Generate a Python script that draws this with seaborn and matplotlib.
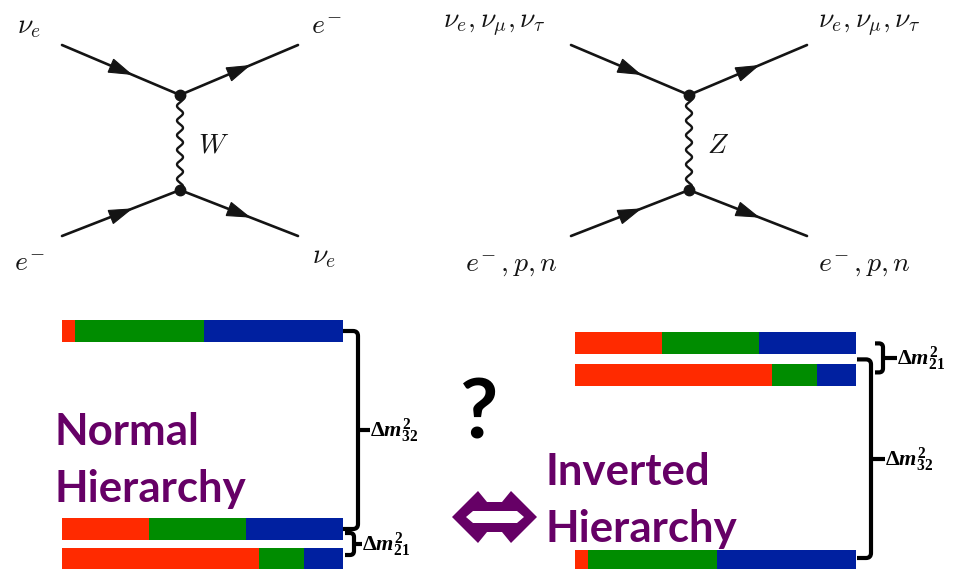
import numpy as np
import pandas as pd
import matplotlib
matplotlib.use("Agg")
import matplotlib.pyplot as plt
from matplotlib.path import Path
from matplotlib.patches import PathPatch, Polygon
import seaborn as sns

# Flavour content (nu_e, nu_mu, nu_tau fractions) of the mass states m1, m2, m3
states = ["m1", "m2", "m3"]
frac_e = [0.70, 0.31, 0.045]
frac_mu = [0.16, 0.345, 0.46]
frac_tau = [0.14, 0.345, 0.495]
flavours = ["e", "mu", "tau"]

# Relative squared-mass level of m1, m2, m3 in each ordering
normal_levels = [0.0, 1.0, 7.6]
inverted_levels = [5.8, 6.8, 0.0]

# Vertices of the two exchange diagrams (W: charged current, Z: neutral current)
diagram_x = [180, 689]
vertex_y = [95, 190]
leg_dx = 118
leg_dy_top = 50
leg_dy_bottom = 46

FLAVOUR_COLORS = {"e": "#FF2A00", "mu": "#008C00", "tau": "#0020A0"}
PURPLE = "#660066"
INK = "#141414"

sns.set_style("white")
plt.rcParams["font.family"] = ["Lato", "DejaVu Sans"]
plt.rcParams["mathtext.fontset"] = "custom"
plt.rcParams["mathtext.rm"] = "Liberation Serif:bold"
plt.rcParams["mathtext.it"] = "Liberation Serif:italic:bold"
plt.rcParams["mathtext.bf"] = "Liberation Serif:bold"

W, H = 956, 569
fig = plt.figure(figsize=(W / 100, H / 100), dpi=100)
fig.patch.set_facecolor("white")


def px_axes(left, right, top, bottom):
    return fig.add_axes([left / W, 1 - bottom / H, (right - left) / W, (bottom - top) / H])


# ---- stacked flavour bars for both orderings ----
BAR_PX = 22
panels = {
    "normal": dict(levels=normal_levels, x0=62, x1=343, y0=559, unit=30.0),
    "inverted": dict(levels=inverted_levels, x0=575, x1=856, y0=561, unit=32.0),
}
for name, p in panels.items():
    ax = px_axes(p["x0"], p["x1"], 290, H)
    df = pd.DataFrame({"state": states, "level": p["levels"],
                       "e": frac_e, "mu": frac_mu, "tau": frac_tau})
    df["cum_e"] = df["e"]
    df["cum_mu"] = df["e"] + df["mu"]
    df["cum_tau"] = df["e"] + df["mu"] + df["tau"]
    for fl in reversed(flavours):
        sns.barplot(data=df, x=f"cum_{fl}", y="level", orient="y", native_scale=True,
                    color=FLAVOUR_COLORS[fl], saturation=1, width=BAR_PX / p["unit"],
                    linewidth=0, errorbar=None, ax=ax)
    ax.set_xlim(0, 1)
    ax.set_ylim((p["y0"] - H) / p["unit"], (p["y0"] - 290) / p["unit"])
    ax.axis("off")

# ---- overlay canvas in pixel units for diagrams and annotations ----
cv = fig.add_axes([0, 0, 1, 1])
cv.set_xlim(0, W)
cv.set_ylim(H, 0)
cv.axis("off")
cv.patch.set_visible(False)


def level_px(panel, state):
    p = panels[panel]
    return p["y0"] - p["levels"][states.index(state)] * p["unit"]


def brace(x_start, x_vert, y_top, y_bot, x_tip, label, r=5, lw=3.0):
    y_mid = 0.5 * (y_top + y_bot)
    verts = [(x_start, y_top), (x_vert - r, y_top), (x_vert, y_top), (x_vert, y_top + r),
             (x_vert, y_bot - r), (x_vert, y_bot), (x_vert - r, y_bot), (x_start, y_bot)]
    codes = [Path.MOVETO, Path.LINETO, Path.CURVE3, Path.CURVE3,
             Path.LINETO, Path.CURVE3, Path.CURVE3, Path.LINETO]
    cv.add_patch(PathPatch(Path(verts, codes), fill=False, lw=lw, color="black",
                           capstyle="butt", joinstyle="round"))
    cv.plot([x_vert, x_tip], [y_mid, y_mid], color="black", lw=lw, solid_capstyle="butt")
    cv.text(x_tip, y_mid + 1, label, fontsize=16, color="black", ha="left", va="center")


n1 = panels["normal"]["x1"]
brace(n1, n1 + 15, level_px("normal", "m3"), level_px("normal", "m2"), n1 + 27,
      r"$\Delta m^2_{32}$")
brace(n1 + 2, n1 + 11, level_px("normal", "m2") + 4, level_px("normal", "m1") - 4, n1 + 19,
      r"$\Delta m^2_{21}$", r=4)
i1 = panels["inverted"]["x1"]
brace(i1 + 19, i1 + 27, level_px("inverted", "m2"), level_px("inverted", "m1") - 3, i1 + 41,
      r"$\Delta m^2_{21}$", r=4)
brace(i1 + 1, i1 + 15, 0.5 * (level_px("inverted", "m2") + level_px("inverted", "m1")),
      level_px("inverted", "m3") - 3, i1 + 29, r"$\Delta m^2_{32}$")

# ---- titles ----
title_kw = dict(color=PURPLE, fontsize=31.5, fontweight="bold", ha="left", va="baseline")
cv.text(55, 445, "Normal", **title_kw)
cv.text(55, 502, "Hierarchy", **title_kw)
cv.text(546, 485, "Inverted", **title_kw)
cv.text(546, 542, "Hierarchy", **title_kw)
cv.text(460, 438, "?", color="black", fontsize=60, fontweight="bold", ha="left", va="baseline")

# double-headed arrow between the two orderings
ax_c, ay_c = 494.5, 517
outer = [(-42.5, 0), (-16.5, -26), (-7.5, -15), (7.5, -15), (16.5, -26),
         (42.5, 0), (16.5, 26), (7.5, 15), (-7.5, 15), (-16.5, 26)]
inner = [(-28.5, 0), (-21.5, 6), (22.5, 6), (29.5, 0), (22.5, -6), (-21.5, -6)]
verts, codes = [], []
for ring in (outer, inner):
    pts = [(ax_c + dx, ay_c + dy) for dx, dy in ring]
    verts += pts + [pts[0]]
    codes += [Path.MOVETO] + [Path.LINETO] * (len(pts) - 1) + [Path.CLOSEPOLY]
cv.add_patch(PathPatch(Path(verts, codes), facecolor=PURPLE, edgecolor="none"))

# ---- Feynman diagrams ----
def fermion_leg(p0, p1):
    p0, p1 = np.asarray(p0, float), np.asarray(p1, float)
    cv.plot([p0[0], p1[0]], [p0[1], p1[1]], color=INK, lw=1.9, solid_capstyle="round")
    d = (p1 - p0) / np.hypot(*(p1 - p0))
    n = np.array([-d[1], d[0]])
    m = 0.5 * (p0 + p1)
    L, w = 22, 7
    tip = m + d * L / 2
    base = m - d * L / 2
    cv.add_patch(Polygon([tip, base + n * w, base - n * w], closed=True,
                         facecolor=INK, edgecolor=INK, lw=0.8))


for cx in diagram_x:
    vt, vb = vertex_y
    fermion_leg((cx - leg_dx, vt - leg_dy_top), (cx, vt))
    fermion_leg((cx, vt), (cx + leg_dx, vt - leg_dy_top))
    fermion_leg((cx - leg_dx, vb + leg_dy_bottom), (cx, vb))
    fermion_leg((cx, vb), (cx + leg_dx, vb + leg_dy_bottom))
    t = np.linspace(0, 1, 400)
    cv.plot(cx + 3.0 * np.sin(2 * np.pi * 6.5 * t), vt + t * (vb - vt), color=INK, lw=1.7)
    cv.plot([cx, cx], [vt, vb], ls="none", marker="o", ms=7.5, color=INK)

feyn_kw = dict(fontsize=20, color=INK, ha="left", va="baseline", math_fontfamily="cm")
cv.text(17, 33, r"$\nu_e$", **feyn_kw)
cv.text(311, 34, r"$e^{\!-}$", **feyn_kw)
cv.text(14, 271, r"$e^{\!-}$", **feyn_kw)
cv.text(312, 263, r"$\nu_e$", **feyn_kw)
cv.text(198, 152, r"$W$", **feyn_kw)
cv.text(443, 27, r"$\nu_e, \nu_\mu, \nu_\tau$", **feyn_kw)
cv.text(818, 27, r"$\nu_e, \nu_\mu, \nu_\tau$", **feyn_kw)
cv.text(465, 272, r"$e^{\!-}, p, n$", **feyn_kw)
cv.text(818, 272, r"$e^{\!-}, p, n$", **feyn_kw)
cv.text(707, 153, r"$Z$", **feyn_kw)

fig.savefig("out.png", dpi=100)
